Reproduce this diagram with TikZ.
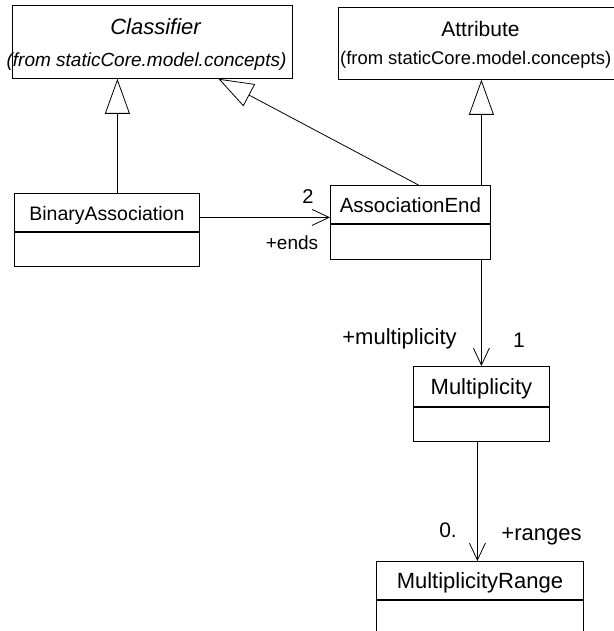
\documentclass[tikz,border=0pt]{standalone}
\usepackage{fontspec}
\setmainfont{Liberation Sans}
\usetikzlibrary{calc}
\usetikzlibrary{arrows.meta}

\newcommand\police[1]{\fontsize{#1}{#1}\selectfont}

\tikzset{
  classe/.style={draw, rectangle, line width=0.8pt, inner sep=0pt, anchor=north west},
  nom/.style={text height=16pt, text depth=0pt},
  heritage/.style={line width=0.8pt, -{Triangle[open, length=35pt, width=25pt]}},
  assoc/.style={line width=0.8pt, -{Straight Barb[length=17pt, width=16pt]}},
  role/.style={anchor=base, inner sep=0pt},
}

\begin{document}
\begin{tikzpicture}[x=1pt,y=-1pt]
\useasboundingbox (0,0) rectangle (613,631);

%%%%%%%%%%%%%%%%%%%%%%%%
%Classes du haut
%%%%%%%%%%%%%%%%%%%%%%%%
\node[classe, minimum width=280pt, minimum height=73pt] (cls) at (12,5) {};
\node[role, font=\itshape\police{22}] (cls-nom) at (155.5,35) {Classifier};
\node[role, font=\itshape\police{19}] (cls-pkg) at (146.5,67) {(from staticCore.model.concepts)};

\node[classe, minimum width=290pt, minimum height=72pt] (attr) at (338,7) {};
\node[role, font=\police{21}] (attr-nom) at (480.5,37) {Attribute};
\node[role, font=\police{18.4}, anchor=base west] (attr-pkg) at (340,65) {(from staticCore.model.concepts)};

%%%%%%%%%%%%%%%%%%%%%%%%
%Classes avec compartiment vide
%%%%%%%%%%%%%%%%%%%%%%%%
\node[classe, nom, font=\police{19.5}, minimum width=185pt, minimum height=38pt] (ba) at (14,193) {BinaryAssociation};
\node[classe, minimum width=185pt, minimum height=34pt] (ba-att) at (ba.south west) {};

\node[classe, nom, font=\police{20.5}, minimum width=160pt, minimum height=38pt] (aend) at (330,185) {AssociationEnd};
\node[classe, minimum width=160pt, minimum height=35pt] (aend-att) at (aend.south west) {};

\node[classe, nom, font=\police{22}, minimum width=136pt, minimum height=40pt] (mult) at (413,366) {Multiplicity};
\node[classe, minimum width=136pt, minimum height=34pt] (mult-att) at (mult.south west) {};

\node[classe, nom, font=\police{22}, minimum width=207pt, minimum height=38pt] (mr) at (376,561) {MultiplicityRange};
\node[classe, minimum width=207pt, minimum height=45pt] (mr-att) at (mr.south west) {}; %coupe par le bord

%%%%%%%%%%%%%%%%%%%%%%%%
%Liens
%%%%%%%%%%%%%%%%%%%%%%%%
\draw[heritage] ([xshift=10.5pt]ba.north) -- ([xshift=10.5pt]ba.north |- cls.south);
\draw[heritage] ([xshift=8pt]aend.north) -- ([xshift=66pt]cls.south);
\draw[heritage] ([xshift=71pt]aend.north) -- ([xshift=71pt]aend.north |- attr.south);

\draw[assoc] ([yshift=-5pt]ba.east) -- ([yshift=-5pt]ba.east -| aend.west);
\draw[assoc] (aend-att.south -| mult.north) -- (mult.north);
\draw[assoc] ([xshift=-4pt]mult-att.south) -- ([xshift=-4pt]mult-att.south |- mr.north);

% roles et multiplicites
\node[role, font=\police{20}] (card-ends) at (308,204) {2};
\node[role, font=\police{19}] (role-ends) at (292,249) {+ends};
\node[role, font=\police{22}] (role-mult) at (399.5,344) {+multiplicity};
\node[role, font=\police{21}] (card-mult) at (519,347) {1};
\node[role, font=\police{21}] (card-ranges) at (448,537) {0.};
\node[role, font=\police{22}] (role-ranges) at (541.5,540) {+ranges};

\end{tikzpicture}
\end{document}
